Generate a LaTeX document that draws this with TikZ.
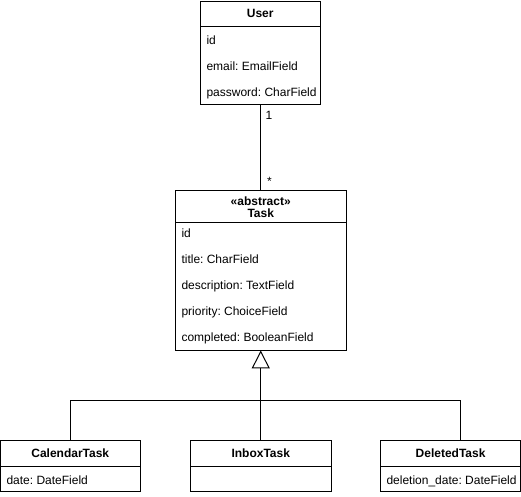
\documentclass[tikz,border=0pt]{standalone}
\usepackage{fontspec}
\setmainfont{Liberation Sans}
\usetikzlibrary{arrows.meta}
\frenchspacing
\begin{document}
\frenchspacing
\begin{tikzpicture}[x=1pt,y=-1pt,
  font=\fontsize{12pt}{14pt}\selectfont\frenchspacing,
  line width=1pt,
  hdr/.style={draw, line width=1pt, inner sep=0pt, outer sep=0pt, anchor=north west, fill=white},
  body/.style={draw, line width=1pt, inner sep=0pt, outer sep=0pt, anchor=north west, fill=white},
  attr/.style={anchor=west, inner sep=0pt, text height=8.6pt, text depth=0pt},
  lbl/.style={anchor=base, inner sep=0pt},
  conn/.style={draw, line width=1pt},
  inh/.style={conn, -{Triangle[open, length=18pt, width=18pt, line width=1pt]}}
]
\useasboundingbox (0,0) rectangle (521,496);

% User
\node[hdr, minimum width=119.5pt, minimum height=25pt] (user) at (200.5,1) {\bfseries User};
\node[body, minimum width=119.5pt, minimum height=78pt] (userb) at (user.south west) {};
\node[attr] (u1) at (206,40) {id};
\node[attr] (u2) at (206,66) {email: EmailField};
\node[attr] (u3) at (206,92) {password: CharField};

% Task
\node[hdr, minimum width=170.5pt, minimum height=31.5pt] (task) at (175.5,190.7) {};
\node[lbl] (tst) at (260.75,205) {\bfseries «abstract»};
\node[lbl] (tname) at (260.75,217.3) {\bfseries Task};
\node[body, minimum width=170.5pt, minimum height=128.2pt] (taskb) at (task.south west) {};
\node[attr] (t1) at (181,233) {id};
\node[attr] (t2) at (181,259) {title: CharField};
\node[attr] (t3) at (181,285) {description: TextField};
\node[attr] (t4) at (181,311) {priority: ChoiceField};
\node[attr] (t5) at (181,337) {completed: BooleanField};

% CalendarTask
\node[hdr, minimum width=139.5pt, minimum height=26pt] (cal) at (0.5,440.3) {\bfseries CalendarTask};
\node[body, minimum width=139.5pt, minimum height=25pt] (calb) at (cal.south west) {};
\node[attr] (c1) at (6,480) {date: DateField};

% InboxTask
\node[hdr, minimum width=140.5pt, minimum height=26pt] (inbox) at (190.5,440.3) {\bfseries InboxTask};
\node[body, minimum width=140.5pt, minimum height=25pt] (inboxb) at (inbox.south west) {};

% DeletedTask
\node[hdr, minimum width=139.8pt, minimum height=26pt] (del) at (380.7,440.3) {\bfseries DeletedTask};
\node[body, minimum width=139.8pt, minimum height=25pt] (delb) at (del.south west) {};
\node[attr] (d1) at (386,480) {deletion\_date: DateField};

% Association User - Task
\draw[conn] (userb.south) -- (userb.south |- task.north);
\node[lbl] (m1) at (269,119.5) {1};
\node[lbl] (m2) at (269.5,185) {*};

% Inheritance
\coordinate (j) at (260.75,400.7);
\draw[inh] (inbox.north) -- (inbox.north |- taskb.south);
\draw[conn] (cal.north) |- (j);
\draw[conn] (j) -| ([xshift=9.7pt]del.north);
\end{tikzpicture}
\end{document}
